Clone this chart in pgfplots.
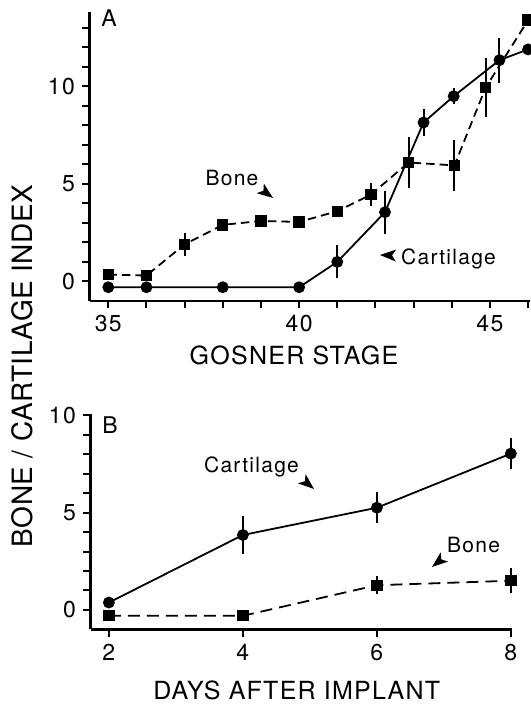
\documentclass[border=0pt]{standalone}
\usepackage{pgfplots}
\pgfplotsset{compat=1.18}
\usepackage{fontspec}
\setmainfont{TeX Gyre Heros}
\newcommand{\ahead}[3]{\fill[black,shift={(#1pt,#2pt)},rotate=#3] (0,0) -- (-8pt,3pt) -- (-6pt,0) -- (-8pt,-3pt) -- cycle;}
\begin{document}
\begin{tikzpicture}
\pgfplotsset{
  myax/.style={
    scale only axis,
    axis x line=bottom, axis y line=left,
    axis line style={-, line width=1.35pt},
    tick align=outside,
    major tick length=3.8pt, minor tick length=3.8pt,
    every tick/.style={black, line width=1pt},
    every minor tick/.style={black, line width=1pt},
    tick label style={font=\fontsize{11.5}{13}\selectfont\addfontfeature{LetterSpace=6}},
    /pgf/number format/assume math mode=true,
    clip=false,
  },
  bonestyle/.style={black, line width=0.9pt, mark=square*, mark size=2.4pt, mark options={solid},
    error bars/.cd, y dir=both, y explicit, error mark=none,
    error bar style={solid, line width=1pt}},
  cartstyle/.style={black, line width=0.9pt, mark=*, mark size=2.5pt, mark options={solid},
    error bars/.cd, y dir=both, y explicit, error mark=none,
    error bar style={solid, line width=1pt}},
}
% Panel A
\begin{axis}[myax,
  at={(44.8pt,202.05pt)}, anchor=south west,
  width=220.2pt, height=144.55pt,
  xmin=34.51, xmax=46.05, ymin=-1, ymax=13.83,
  xtick={35,40,45}, minor xtick={36,...,46},
  ytick={0,5,10}, minor ytick={1,2,3,4,6,7,8,9,11,12,13},
]
\addplot[dash pattern=on 4.25pt off 2.5pt, bonestyle] table[x=x,y=y,y error=e] {
x y e
35 0.35 0
36 0.3 0
37 1.9 0.6
38 2.9 0
39 3.1 0
40 3.05 0
41 3.6 0
41.88 4.45 0.6
42.87 6.1 1.3
44.07 5.95 1.3
44.89 9.95 1.5
46.0 13.4 0
};
\addplot[cartstyle] table[x=x,y=y,y error=e] {
x y e
35 -0.3 0
36 -0.3 0
38 -0.3 0
40 -0.3 0
41 1.0 0.85
42.25 3.55 1.1
43.26 8.15 0.7
44.05 9.5 0.4
45.25 11.35 1.15
46.0 11.9 0
};
\end{axis}
% Panel B
\begin{axis}[myax,
  at={(45.3pt,37.8pt)}, anchor=south west,
  width=210.8pt, height=107.55pt,
  xmin=1.727, xmax=8.02, ymin=-1, ymax=10.05,
  xtick={2,4,6,8},
  ytick={0,5,10}, minor ytick={1,...,9},
]
\addplot[cartstyle] table[x=x,y=y,y error=e] {
x y e
2 0.38 0
4 3.85 1.0
6 5.25 0.8
8 8.03 0.78
};
\addplot[dash pattern=on 6pt off 3.5pt, bonestyle] table[x=x,y=y,y error=e] {
x y e
2 -0.3 0
4 -0.3 0
6 1.27 0.45
8 1.5 0.63
};
\end{axis}
% labels
\node[font=\fontsize{14}{16}\selectfont\addfontfeature{LetterSpace=2}, rotate=90] at (11pt,169.5pt) {BONE / CARTILAGE INDEX};
\node[font=\fontsize{12.5}{14}\selectfont\addfontfeature{LetterSpace=5}] at (147pt,175pt) {GOSNER STAGE};
\node[font=\fontsize{12.5}{14}\selectfont\addfontfeature{LetterSpace=5}] at (148.35pt,7.5pt) {DAYS AFTER IMPLANT};
\node[font=\fontsize{11.5}{13}\selectfont] at (54.5pt,343.5pt) {A};
\node[font=\fontsize{11.5}{13}\selectfont] at (55pt,140pt) {B};
% annotations
\node[font=\fontsize{10.5}{12}\selectfont\addfontfeature{LetterSpace=6}] at (116pt,263.5pt) {Bone};
\ahead{136.5}{253.5}{-37}
\node[font=\fontsize{10.5}{12}\selectfont\addfontfeature{LetterSpace=6}] at (224.25pt,223.15pt) {Cartilage};
\ahead{190}{225}{178}
\node[font=\fontsize{10.5}{12}\selectfont\addfontfeature{LetterSpace=6}] at (125.75pt,119pt) {Cartilage};
\ahead{157}{108}{-40}
\node[font=\fontsize{10.5}{12}\selectfont\addfontfeature{LetterSpace=6}] at (236.8pt,79.75pt) {Bone};
\ahead{216}{69}{219}
\pgfresetboundingbox
\path (0,0) rectangle (265pt,352.5pt);
\end{tikzpicture}
\end{document}
